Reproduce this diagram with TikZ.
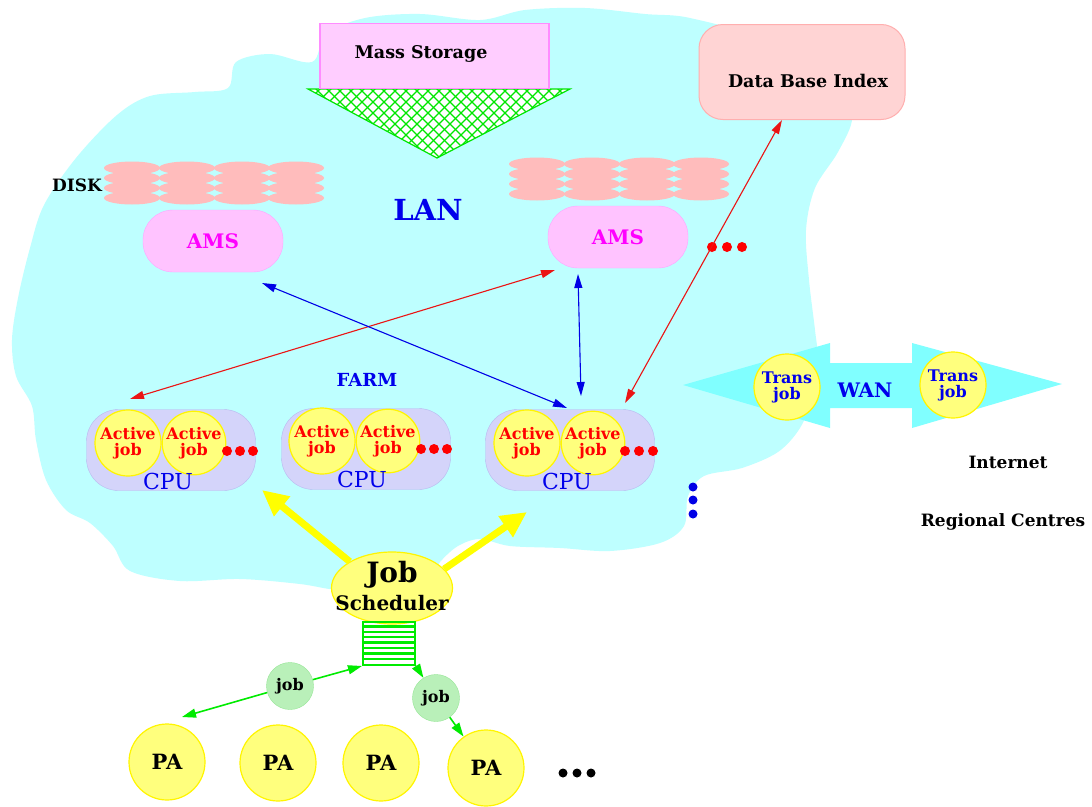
\documentclass[tikz,border=0pt]{standalone}
\usepackage{fontspec}
\setmainfont{DejaVu Serif}
\usetikzlibrary{arrows.meta,shapes.geometric,calc}

\definecolor{cloudcyan}{RGB}{190,255,255}
\definecolor{wancyan}{RGB}{128,255,255}
\definecolor{msfill}{RGB}{255,205,255}
\definecolor{msborder}{RGB}{255,140,255}
\definecolor{meshgreen}{RGB}{0,230,0}
\definecolor{dbfill}{RGB}{255,212,212}
\definecolor{dbborder}{RGB}{255,175,175}
\definecolor{diskpink}{RGB}{255,188,188}
\definecolor{amsfill}{RGB}{255,195,255}
\definecolor{amstext}{RGB}{255,0,255}
\definecolor{cpufill}{RGB}{212,212,250}
\definecolor{cpuborder}{RGB}{185,185,240}
\definecolor{jobyellow}{RGB}{255,255,125}
\definecolor{ringyellow}{RGB}{255,245,0}
\definecolor{jobgreen}{RGB}{185,240,185}
\definecolor{jobgreenedge}{RGB}{150,230,150}
\definecolor{arrred}{RGB}{235,20,20}
\definecolor{arrblue}{RGB}{0,0,230}
\definecolor{txtblue}{RGB}{0,0,235}
\definecolor{arryellow}{RGB}{255,255,0}
\definecolor{laddergreen}{RGB}{0,235,0}

\newcommand\fsz[1]{\fontsize{#1}{#1}\selectfont}
% one disk unit: four stacked platters centred at (#1,#2)
\newcommand\diskunit[2]{%
  \foreach \r in {0,1,2,3}{%
    \fill[diskpink] (#1,#2+\r*10) ellipse (28pt and 6.5pt);}}

\begin{document}
\begin{tikzpicture}[x=1pt,y=-1pt,
  plain/.style={inner sep=0pt, font=\bfseries},
  amsbox/.style={draw=amsfill!85!magenta, fill=amsfill, rounded corners=30pt,
    minimum width=140pt, minimum height=62pt, inner sep=0pt,
    text=amstext, font=\fsz{20}\bfseries},
  cpubox/.style={draw=cpuborder, fill=cpufill, rounded corners=32pt,
    minimum width=169pt, minimum height=81pt, inner sep=0pt},
  activejob/.style={circle, draw=ringyellow, line width=1.2pt, fill=jobyellow,
    minimum size=#1, inner sep=0pt, align=center, text=red,
    font=\fsz{16}\bfseries},
  cpulbl/.style={inner sep=0pt, text=txtblue, font=\fsz{22}},
  transjob/.style={circle, draw=ringyellow, line width=1.2pt, fill=jobyellow,
    minimum size=66pt, inner sep=0pt, align=center, text=txtblue,
    font=\fsz{16}\bfseries},
  pa/.style={circle, draw=ringyellow, line width=1.2pt, fill=jobyellow,
    minimum size=76pt, inner sep=0pt, font=\fsz{21}\bfseries},
  smalljob/.style={circle, draw=jobgreenedge, fill=jobgreen, minimum size=47pt,
    inner sep=0pt, font=\fsz{16}\bfseries},
  redarr/.style={draw=arrred, line width=1.1pt,
    {Triangle[length=14pt,width=8pt]}-{Triangle[length=14pt,width=8pt]}},
  bluearr/.style={draw=arrblue, line width=1.1pt,
    {Triangle[length=14pt,width=8pt]}-{Triangle[length=14pt,width=8pt]}},
  bigyellow/.style={draw=arryellow, line width=7pt,
    -{Triangle[length=26pt,width=24pt]}},
  greenarr/.style={draw=laddergreen, line width=1.6pt,
    -{Triangle[length=14pt,width=9pt]}},
  reddot/.style={fill=red},
]
\useasboundingbox (0,0) rectangle (1092,806);
\fill[white] (0,0) rectangle (1092,806);

% ---------------- LAN cloud ----------------
\fill[cloudcyan] plot[smooth cycle, tension=0.55] coordinates {
  (117,115) (150,96) (195,92) (228,88) (236,62) (270,54) (312,62) (326,34)
  (365,18) (420,14) (480,20) (525,10) (585,8) (645,14) (690,18) (760,40)
  (835,95) (852,118) (838,152) (815,188) (806,230) (809,280) (815,330)
  (818,362) (812,398) (800,428) (778,452) (742,468) (704,476) (688,496)
  (684,526) (660,543) (610,551) (560,548) (510,546) (480,539) (458,546)
  (440,562) (428,580) (398,588) (340,590) (300,584) (240,579) (180,581)
  (130,571) (113,546) (90,523) (66,510) (46,480) (36,440) (32,406)
  (16,376) (12,340) (18,298) (30,248) (44,205) (76,158)};

% ---------------- WAN double arrow ----------------
\fill[wancyan] (683,385) -- (830,343) -- (830,363) -- (912,363) -- (912,343)
  -- (1062,384) -- (912,428) -- (912,408) -- (830,408) -- (830,428) -- cycle;

% ---------------- Mass storage ----------------
\path[fill=white] (308,89) -- (570,89) -- (437,158) -- cycle;
\begin{scope}
  \clip (308,89) -- (570,89) -- (437,158) -- cycle;
  \foreach \k in {0,...,44}{
    \draw[meshgreen, line width=1.1pt] (230+\k*11,80) -- ++(90,90);
    \draw[meshgreen, line width=1.1pt] (230+\k*11,80) -- ++(-90,90);}
\end{scope}
\draw[meshgreen, line width=1.2pt] (308,89) -- (570,89) -- (437,158) -- cycle;
\node[draw=msborder, line width=1.2pt, fill=msfill, minimum width=229pt,
  minimum height=65pt, inner sep=0pt] (mass) at (434.5,56) {};
\node[plain, font=\fsz{17.5}\bfseries] (masslbl) at (421,54) {Mass Storage};

% ---------------- Data base index ----------------
\node[draw=dbborder, line width=1pt, fill=dbfill, rounded corners=24pt,
  minimum width=206pt, minimum height=95pt, inner sep=0pt] (db) at (802,72) {};
\node[plain, font=\fsz{17.5}\bfseries] (dblbl) at (808,81) {Data Base Index};

% ---------------- Disks ----------------
\diskunit{132}{168}\diskunit{187}{168}\diskunit{242}{168}\diskunit{296}{168}
\diskunit{537}{164}\diskunit{592}{164}\diskunit{647}{164}\diskunit{701}{164}
\node[plain, font=\fsz{17}\bfseries] (disklbl) at (77,185) {DISK};

% ---------------- AMS servers ----------------
\node[amsbox] (amsL) at (213,241) {AMS};
\node[amsbox] (amsR) at (618,237) {AMS};

\node[plain, text=txtblue, font=\fsz{29}\bfseries] (lan) at (428,210) {LAN};
\node[plain, text=txtblue, font=\fsz{18}\bfseries] (farm) at (367,380) {FARM};

% red dots next to the database link
\foreach \x in {712,727,742} \fill[reddot] (\x,247) circle (5pt);

% ---------------- CPU farm ----------------
\node[cpubox] (cpu1) at (171,450) {};
\node[cpubox] (cpu2) at (366,449) {};
\node[cpubox] (cpu3) at (570,450) {};

\node[activejob=66pt] (a11) at (128,443) {Active\\job};
\node[activejob=56pt] (a12) at (194,443) {Active\\job};
\node[activejob=66pt] (a21) at (322,441) {Active\\job};
\node[activejob=56pt] (a22) at (388,441) {Active\\job};
\node[activejob=66pt] (a31) at (527,443) {Active\\job};
\node[activejob=56pt] (a32) at (593,443) {Active\\job};

\foreach \x in {227,240,253} \fill[reddot] (\x,451) circle (5pt);
\foreach \x in {421,434,447} \fill[reddot] (\x,449) circle (5pt);
\foreach \x in {625,639,653} \fill[reddot] (\x,451) circle (5pt);

\node[cpulbl] (cpu1lbl) at (168,481) {CPU};
\node[cpulbl] (cpu2lbl) at (362,479) {CPU};
\node[cpulbl] (cpu3lbl) at (567,481) {CPU};

% blue dots: more farms
\foreach \y in {487,500,514} \fill[arrblue] (693,\y) circle (4.5pt);

% ---------------- LAN links ----------------
\coordinate (dbTip) at (782,120);
\coordinate (cpu3NE) at (625,403);
\coordinate (amsRsw) at (555,270);
\coordinate (cpu1NW) at (130,399);
\coordinate (amsLse) at (262,283);
\coordinate (cpu3N) at (567,408);
\coordinate (amsRs) at (578,274);
\coordinate (cpu3Nr) at (581,396);
\draw[redarr] (dbTip) -- (cpu3NE);
\draw[redarr] (amsRsw) -- (cpu1NW);
\draw[bluearr] (amsLse) -- (cpu3N);
\draw[bluearr] (amsRs) -- (cpu3Nr);

% ---------------- WAN ----------------
\node[transjob] (tj1) at (787,387) {Trans\\job};
\node[transjob] (tj2) at (953,385) {Trans\\job};
\node[plain, text=txtblue, font=\fsz{20}\bfseries] (wan) at (865,390) {WAN};
\node[plain, font=\fsz{17}\bfseries] (inet) at (1008,462) {Internet};
\node[plain, font=\fsz{17}\bfseries] (rc) at (1003,522) {Regional Centres};

% ---------------- Job scheduler ----------------
\coordinate (farmL) at (262,490);
\coordinate (farmR) at (527,512);
\node[ellipse, draw=ringyellow, line width=1.2pt, fill=jobyellow,
  minimum width=121pt, minimum height=72pt, inner sep=0pt] (sched) at (392,588) {};
\draw[bigyellow] (sched.148) -- (farmL);
\draw[bigyellow] (sched.20) -- (farmR);
\node[plain, font=\fsz{28}\bfseries] (schedA) at (392,575) {Job};
\node[plain, font=\fsz{20}\bfseries] (schedB) at (392,603) {Scheduler};

% job queue
\node[draw=laddergreen, line width=2pt, minimum width=52pt, minimum height=43pt,
  inner sep=0pt] (queue) at (389,643.5) {};
\foreach \i in {1,...,7} \draw[laddergreen, line width=2.4pt]
  ($(queue.north west)+(0,5.4*\i)$) -- ($(queue.north east)+(0,5.4*\i)$);

% ---------------- physics analysis jobs ----------------
\node[pa] (pa1) at (167,762) {PA};
\node[pa] (pa2) at (278,763) {PA};
\node[pa] (pa3) at (381,763) {PA};
\node[pa] (pa4) at (486,768) {PA};
\foreach \x in {563,577,591} \fill (\x,773) circle (4.5pt);

\node[smalljob] (job1) at (290,686) {job};
\node[smalljob] (job2) at (436,698) {job};
\coordinate (pa1Tip) at (182,717);
\draw[greenarr] (job1) -- (queue.south west);
\draw[greenarr] (job1) -- (pa1Tip);
\draw[greenarr] (queue.south east) -- (job2);
\draw[greenarr] (job2) -- (pa4);
\end{tikzpicture}
\end{document}
